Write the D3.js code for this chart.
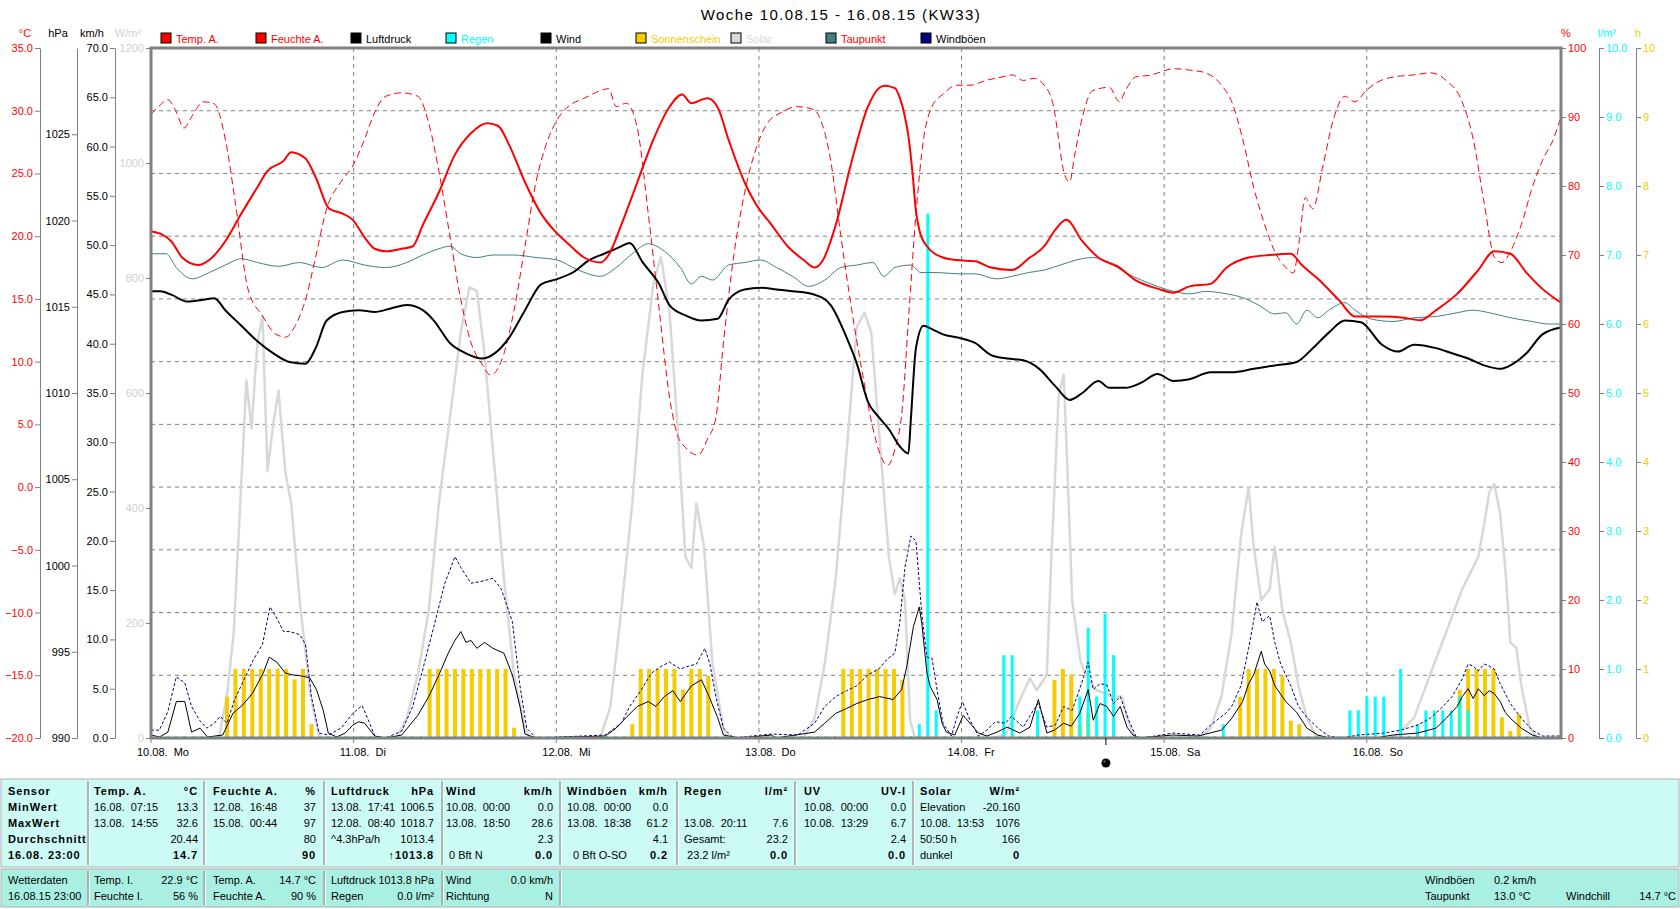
<!DOCTYPE html>
<html>
<head>
<meta charset="utf-8">
<script src="https://cdn.jsdelivr.net/npm/d3@7"></script>
<style>
  body { margin: 0; background: #fff; }
  svg text { font-family: "Liberation Sans", Arial, sans-serif; font-size: 11px; }
  .bold { font-weight: bold; letter-spacing: 0.9px; }
</style>
</head>
<body>
<svg id="chart" width="1680" height="909"></svg>
<script>
// ---- data (hours since 10.08. 00:00, value) ----
const dayLabels = ["10.08.  Mo", "11.08.  Di", "12.08.  Mi", "13.08.  Do", "14.08.  Fr", "15.08.  Sa", "16.08.  So"];

const tempA = [[0,20.4],[1.1,20.2],[2.4,19.6],[3.7,18.3],[5.6,17.7],[6.9,18.1],[8.8,19.6],[10.7,21.8],[12.6,23.9],[13.8,25.2],[15.7,26.0],[16.6,26.7],[18.3,26.2],[19.5,24.7],[21.1,22.2],[22.7,21.8],[23.9,21.3],
  [25.3,19.9],[26.5,19.0],[27.8,18.8],[29.7,19.0],[31.0,19.2],[32.2,20.9],[34.1,23.5],[36.0,26.5],[37.9,28.2],[39.8,29.0],[41.1,28.8],[42.4,27.3],[44.3,24.3],[46.2,21.8],[47.7,20.5],
  [49.4,19.4],[51.3,18.3],[53.2,17.9],[54.2,18.5],[55.7,20.9],[57.6,24.3],[59.5,27.7],[61.4,30.3],[62.9,31.3],[64.0,30.6],[65.9,31.0],[67.1,30.3],[68.4,27.7],[70.3,24.3],[71.6,22.6],
  [73.5,20.9],[75.4,19.2],[77.3,18.1],[78.6,17.5],[79.6,18.1],[81.1,20.9],[83.0,26.0],[84.9,30.3],[86.2,31.8],[86.9,32.0],[88.1,31.8],[88.7,31.0],[89.3,29.5],[89.7,28.0],[90.2,25.0],[90.6,22.0],[91.0,20.5],[91.9,19.2],[93.8,18.3],[95.4,18.1],
  [97.6,18.0],[99.5,17.5],[102.0,17.3],[103.9,18.2],[105.8,19.2],[107.1,20.5],[108.4,21.3],[110.3,19.6],[112.2,18.3],[114.7,17.5],[116.6,16.5],[119.3,15.8],
  [121.1,15.5],[123.0,16.0],[125.5,16.2],[127.4,17.5],[130.0,18.3],[132.5,18.5],[135.0,18.6],[136.3,17.7],[138.2,16.6],[140.7,14.9],[142.6,13.6],
  [145.8,13.6],[148.4,13.5],[150.3,13.3],[152.2,14.1],[154.7,15.4],[157.2,17.3],[159.1,18.8],[161.0,18.6],[162.9,17.1],[164.8,15.8],[167,14.7]];

const humidityA = [[0,90.4],[0.9,91.5],[2.0,92.5],[3.0,90.7],[3.9,88.4],[4.9,90.2],[6.2,92.2],[7.5,91.9],[8.8,86.8],[10.0,77.5],[11.5,65],[13.2,61.2],[14.8,58.5],[16.0,58.1],[17.0,59.6],[18.3,63.5],[19.5,69.7],[20.8,76.7],[22.5,80.6],[23.9,82.9],
  [25.3,86.8],[26.5,90.7],[27.8,93.0],[29.7,93.5],[31.6,93.0],[32.9,89.1],[34.1,82.1],[35.4,72.8],[36.7,63.5],[37.9,57.3],[39.2,54.2],[40.2,52.6],[41.8,55.7],[43.0,62],[44.3,71.3],[45.6,80.6],[46.8,86],[48.1,89.6],
  [49.4,91.5],[51.3,92.7],[53.2,93.8],[54.2,94.1],[55.1,91.5],[56.3,92],[57.6,88.4],[58.9,75.9],[60.2,62],[61.4,49.5],[62.3,44.1],[63.3,42.1],[64.8,41.0],[65.9,43.3],[66.9,46.4],[67.8,57.3],[69.0,69.7],[70.3,79],[71.6,85.2],
  [72.8,88.7],[74.7,90.7],[76.6,91.5],[78.6,91],[79.2,89.9],[80.5,83.7],[81.7,72.8],[83.0,62],[84.3,52.6],[85.5,44.9],[86.4,41],[87.2,39.5],[88.1,41.8],[89.0,48],[89.7,60.4],[90.6,75.9],[91.5,86.8],[92.5,91.5],[93.8,93.3],[95.4,94.6],
  [97.0,94.6],[98.9,95.3],[100.8,95.8],[102.0,96.1],[103.3,95.3],[104.6,95.6],[105.8,94.6],[106.9,91.5],[107.5,86.8],[108.1,82.1],[108.8,80.6],[109.4,84.5],[110.3,89.9],[111.5,93.8],[113.5,94.3],[114.7,92.2],[115.4,93.8],[116.6,95.8],[118.5,96.1],[119.3,96.4],
  [121.1,97],[123.0,96.8],[124.9,96.4],[126.8,94.6],[128.0,92.2],[129.3,86.8],[130.6,79.8],[131.9,74.4],[133.1,70.5],[134.4,68.2],[135.3,67.4],[136.0,72],[136.7,78.3],[137.6,76.7],[138.8,82.9],[140.1,89.9],[141.4,93],[142.6,92.2],[143.9,93.8],
  [145.2,95],[147.1,95.8],[149.6,96.1],[151.5,96.4],[153.4,95.3],[155.3,92.2],[156.6,86.8],[157.9,77.5],[159.1,69.7],[160.0,68.9],[161.0,70.5],[162.3,74.4],[163.6,79.8],[164.8,83.7],[166.1,86.8],[167,90]];

const pressure = [[0,1015.9],[1.1,1015.9],[2.4,1015.7],[4.3,1015.3],[6.2,1015.4],[7.5,1015.5],[8.8,1014.8],[10.7,1013.9],[12.6,1013.0],[14.5,1012.3],[16.4,1011.8],[18.3,1011.7],[19.5,1012.6],[20.8,1014.2],[22.7,1014.7],
  [24.6,1014.8],[26.5,1014.7],[28.4,1014.9],[30.3,1015.1],[32.2,1014.8],[33.5,1014.2],[35.4,1012.9],[37.3,1012.3],[39.2,1012.0],[40.7,1012.3],[42.4,1013.2],[44.3,1014.8],[46.2,1016.3],
  [48.1,1016.6],[50.0,1017.0],[51.9,1017.7],[53.8,1018.1],[55.7,1018.5],[56.7,1018.7],[58.2,1017.6],[60.2,1016.3],[61.4,1015.1],[63.3,1014.5],[65.2,1014.2],[67.1,1014.3],[68.4,1015.4],[70.3,1016.0],
  [72.2,1016.1],[74.1,1016.0],[76.0,1015.9],[78.6,1015.7],[80.5,1015.1],[82.4,1013.2],[83.6,1011.7],[84.9,1009.5],[86.2,1008.6],[87.4,1007.9],[88.7,1006.9],[89.7,1006.5],[90.0,1008.5],[90.6,1012.6],[91.5,1013.9],[92.5,1013.7],[93.8,1013.4],[95.7,1013.2],
  [97.6,1012.9],[99.5,1012.2],[101.4,1012.0],[103.3,1011.9],[105.2,1011.4],[107.1,1010.4],[108.8,1009.6],[110.3,1010.0],[112.2,1010.7],[113.5,1010.3],[115.4,1010.3],[117.3,1010.6],[119.2,1011.1],
  [121.1,1010.7],[123.0,1010.8],[125.5,1011.2],[128.0,1011.2],[130.6,1011.4],[133.1,1011.6],[135.7,1011.8],[137.6,1012.6],[139.5,1013.5],[141.4,1014.2],[143.3,1014.1],
  [145.8,1012.8],[147.7,1012.4],[149.6,1012.8],[152.2,1012.6],[154.1,1012.3],[156.0,1012.0],[157.9,1011.6],[159.8,1011.4],[161.0,1011.6],[162.9,1012.3],[164.8,1013.4],[167,1013.8]];

const dewPoint = [[0,18.6],[1.8,18.6],[3.0,17.5],[4.9,16.6],[6.9,17.1],[8.8,17.7],[10.7,18.2],[12.6,17.9],[15.1,17.6],[17.6,17.9],[20.2,17.5],[22.7,18.1],[25.3,17.7],[27.8,17.5],[30.3,17.9],[32.2,18.5],[34.1,19.0],[35.4,19.2],[36.7,18.6],[38.6,18.3],[40.5,18.5],[43.0,18.5],[45.6,18.3],
  [48.1,18.1],[50.6,17.3],[53.2,16.8],[55.1,17.5],[57.0,18.6],[58.9,19.4],[60.8,18.8],[62.7,17.5],[64.0,16.2],[65.2,16.8],[66.5,16.5],[68.4,17.7],[70.3,17.9],[72.2,18.1],[74.1,17.5],[76.0,16.8],[77.9,16.0],[79.8,16.5],[81.7,17.5],[83.6,17.7],[85.5,17.9],[86.8,16.8],[88.1,17.5],[90.0,17.7],[91.2,17.1],[93.1,17.1],[95.7,17.0],
  [97.6,17.0],[100.1,16.6],[102.0,16.8],[103.9,17.1],[105.8,17.3],[107.7,17.7],[109.6,18.1],[111.5,18.3],[113.5,17.9],[115.4,17.1],[117.3,16.5],[119.2,16.0],[121.1,15.6],[123.0,15.4],[124.9,15.6],[127.4,15.4],[129.3,15.1],[131.2,14.5],[133.1,13.8],[134.4,13.9],[135.7,13.0],[136.9,14.1],[138.2,13.5],[139.5,14.1],[141.4,14.7],[142.6,14.1],
  [144.5,13.4],[147.1,13.2],[149.6,13.5],[152.2,13.6],[154.7,13.9],[156.6,14.1],[158.5,13.9],[161.0,13.5],[163.6,13.2],[165.5,13.0],[167,13.0]];

const solar = [[0,0],[7.5,0],[8.1,5],[9.0,73],[9.8,184],[10.7,445],[11.3,622],[11.9,538],[12.6,687],[13.2,734],[13.8,464],[14.5,548],[15.1,604],[15.9,464],[16.6,408],[17.6,240],[18.9,73],[19.9,5],[20.2,0],
  [29.1,0],[30.3,35],[31.6,110],[32.9,222],[34.1,408],[35.4,557],[36.7,706],[37.7,784],[38.6,777],[39.5,669],[40.5,501],[41.8,278],[43.0,110],[44.3,17],[44.9,0],
  [53.2,0],[54.4,54],[55.7,222],[57.0,408],[58.2,632],[59.5,790],[60.4,837],[61.4,743],[62.3,557],[63.3,315],[64.0,296],[64.6,408],[65.5,333],[66.5,129],[67.8,17],[68.4,0],
  [77.3,0],[78.6,35],[79.8,129],[81.1,278],[82.4,501],[83.6,715],[84.5,740],[85.3,706],[86.2,538],[87.4,315],[88.1,250],[88.7,278],[89.3,240],[89.9,31],[90.5,0],
  [100,0],[101.3,8],[102.9,66],[104.1,104],[104.9,83],[106.1,110],[106.6,300],[107.5,594],[108.1,632],[108.6,445],[109.1,240],[110.1,133],[110.7,110],[112.0,83],[114.0,72],[115.0,72],[115.7,31],[116.5,0],
  [124.2,0],[125.5,17],[126.8,73],[128.0,184],[129.1,352],[130.0,436],[130.6,333],[131.5,240],[132.5,259],[133.1,333],[134.0,222],[135.0,166],[135.9,91],[136.9,35],[137.9,5],[138.5,0],
  [147.1,0],[149.6,35],[151.5,110],[153.4,184],[155.3,259],[157.2,315],[157.9,371],[158.5,427],[159.1,442],[159.8,389],[160.4,296],[161.0,166],[161.7,157],[162.3,91],[163.3,17],[164.2,0],[167,0]];

const wind = [[0,0.3],[1,0.1],[2,0.6],[3,3.7],[4,3.7],[4.8,0.6],[5.8,1.0],[6.7,0.1],[8.5,0.3],[9.7,2.5],[10.8,3.3],[12,4.5],[13.3,6.6],[14,8.2],[14.9,7.7],[15.9,6.6],[16.8,6.4],[17.8,6.3],[18.8,6.1],[19.6,4.9],[20.4,2.8],[21,0.5],[22,0.1],[23,0.5],[23.9,1.3],[24.6,1.65],
  [25.3,1.5],[26.5,0.2],[27.8,0],[29.7,0.3],[31.6,2.3],[32.9,4.2],[34.1,6.4],[35.2,8.6],[36.0,9.9],[36.7,10.8],[37.3,9.7],[37.9,9.9],[38.6,9.1],[39.5,9.7],[40.5,9.1],[41.8,8.6],[42.8,6.4],[43.7,3.2],[44.3,0.4],[45.6,0],
  [53.8,0.2],[55.1,1.0],[56.3,2.1],[57.6,3.2],[58.9,3.7],[59.8,3.2],[60.8,4.2],[61.8,4.8],[62.7,3.7],[64.0,5.3],[65.2,5.9],[66.1,4.2],[67.1,2.1],[67.8,0.3],[69.7,0],
  [73.5,0.3],[74,0],[78.6,0.6],[79.8,1.5],[81.1,2.5],[82.4,3.0],[83.6,3.5],[84.9,3.9],[86.3,4.2],[87.9,3.9],[88.9,4.9],[89.5,7.2],[90.3,11.3],[91.0,13.3],[91.3,11.6],[91.9,6.6],[92.3,5.2],[93.1,3.9],[93.7,1.5],[94.2,0.6],[95.2,0.3],[96.2,2.3],[97.2,1.3],[98,0.5],[99,0.2],
  [100.2,0.6],[101.4,1.1],[102.9,0.5],[104.1,1.1],[105.1,3.9],[106.1,0.5],[107,0.8],[108.1,1.5],[109,1.2],[110.0,2.5],[111.0,4.9],[111.6,1.8],[112.4,3.5],[113.2,3.2],[114.0,2.2],[114.8,3.2],[115.6,1.1],[116.3,0.3],
  [117,0],[121,0.3],[124,0.2],[126.8,0.8],[128.0,2.0],[129.3,3.7],[130.0,5.5],[130.6,6.4],[131.5,8.8],[131.9,7.5],[132.5,6.8],[133.1,5.3],[134.4,3.7],[135.7,2.6],[136.9,1.0],[138.2,0.3],[139.5,0],
  [145,0],[147.1,0.3],[150,0.5],[152.2,1.0],[153.4,2.0],[154.7,3.2],[155.3,4.2],[156.0,5.0],[156.6,4.0],[157.2,5.0],[157.9,4.3],[158.5,4.8],[159.1,4.5],[159.8,3.7],[160.4,2.6],[161.0,2.0],[162.3,1.0],[163.6,0.3],[164.8,0],[167,0]];

const gusts = [[0,0.8],[1,0.8],[2,2.7],[3,6.2],[4,5.6],[4.8,3.2],[5.8,1.75],[6.6,1.0],[7.5,1.5],[8.2,2.2],[9,1.5],[9.9,3.9],[10.9,5.7],[12.1,7.9],[13.2,9.5],[14.1,13.3],[14.8,12.3],[15.7,10.8],[16.4,10.8],[17.6,10.5],[18.3,9.5],[19.0,4.2],[19.9,0.5],[21,0.3],[22.5,1.0],[23.9,2.5],[25.0,3.3],[25.9,1.5],[26.5,0.2],
  [27.8,0],[29.7,0.7],[31.0,3.2],[32.2,7.0],[33.5,11.3],[34.8,15.7],[36.0,18.4],[36.7,17.3],[37.9,15.7],[39.2,15.9],[40.5,16.2],[41.5,15.1],[42.8,11.8],[43.7,5.3],[44.5,1.0],[45.6,0],
  [53.8,0.3],[55.7,1.5],[56.7,3.2],[58.0,4.8],[59.3,6.6],[60.5,7.3],[61.4,7.7],[62.7,7.0],[63.7,7.3],[64.6,7.5],[65.6,9.1],[66.2,7.5],[66.9,4.2],[67.8,1.0],[69.0,0],
  [73.5,0.4],[76.6,0.3],[78.6,1.5],[79.8,3.2],[81.1,4.2],[82.4,4.8],[83.6,5.3],[84.9,6.4],[86.2,7.0],[87.2,8.0],[88.1,8.6],[88.7,11.8],[89.3,17.3],[90.0,20.5],[90.6,20.0],[91.3,12.5],[91.9,8.2],[92.5,8.1],[93.1,4.9],[93.8,1.5],[94.8,0.2],[95.6,2.5],[96.1,3.7],[97.0,1.8],[98,0.2],[99,0.8],
  [100,1.65],[101.2,1.5],[101.9,2.2],[103.3,1.1],[104.5,2.8],[105.1,3.5],[106.1,1.1],[107.1,1.3],[108.1,3.2],[109.1,2.8],[110.2,5.5],[111.0,7.7],[111.6,4.9],[112.4,5.5],[113.2,5.4],[114.0,3.5],[114.8,4.2],[115.8,1.8],[116.7,0.1],
  [117.5,0],[121,0.5],[124.2,0.3],[125.5,1.3],[127.4,2.6],[128.0,3.2],[129.1,5.3],[130.0,9.1],[131.0,13.8],[131.6,11.8],[132.5,12.4],[133.1,9.7],[133.8,7.5],[135.0,5.3],[135.9,3.2],[136.9,2.1],[138.2,1.0],[139.5,0.2],
  [141,0],[143,0.3],[146,0.5],[148,0.8],[150,1.3],[151.5,2.0],[152.8,3.0],[154.1,4.2],[155.3,6.0],[156.0,7.5],[156.6,7.3],[157.2,6.8],[157.9,7.5],[158.5,7.3],[159.1,7.0],[159.8,5.5],[160.4,4.5],[161.0,3.5],[162.3,2.0],[163.6,0.8],[164.8,0.2],[167,0.2]];

// sunshine hours per hour, rain l/m² per hour
const sunshine = [[9,0.6],[10,1],[11,1],[12,1],[13,1],[14,1],[15,1],[16,1],[17,0.85],[18,1],[19,0.2],
  [33,1],[34,1],[35,1],[36,1],[37,1],[38,1],[39,1],[40,1],[41,1],[42,1],[43,0.15],
  [57,0.2],[58,1],[59,1],[60,1],[61,1],[62,1],[63,0.7],[64,1],[65,1],[66,0.9],
  [82,1],[83,1],[84,1],[85,1],[86,1],[87,1],[88,1],[89,0.84],
  [107,0.84],[108,1],[109,0.92],[110,0.2],[111,0.37],
  [129,0.6],[130,1],[131,1],[132,1],[133,1],[134,0.9],[135,0.25],[136,0.2],
  [155,0.7],[156,1],[157,1],[158,1],[159,1],[160,0.3],[161,0.1],[162,0.35]];

const rain = [[91,0.2],[92,7.6],[93,0.4],[101,1.2],[102,1.2],[105,0.4],[110,0.6],[111,1.6],[112,0.6],[113,1.8],[114,1.2],
  [127,0.2],[142,0.4],[143,0.4],[144,0.6],[145,0.6],[146,0.6],[148,1.0],[150,0.2],[151,0.4],[152,0.4],[153,0.4],[154,0.4],[155,0.6],[156,0.4]];

const moonHour = 113.1;

const legendItems = [
  ["Temp. A.", "#ff0000", "#ff0000"], ["Feuchte A.", "#ff0000", "#ff0000"], ["Luftdruck", "#000000", "#000000"],
  ["Regen", "#00ffff", "#00ffff"], ["Wind", "#000000", "#000000"], ["Sonnenschein", "#f5cc00", "#f5cc00"],
  ["Solar", "#d8d8d8", "#d8d8d8"], ["Taupunkt", "#408080", "#ff0000"], ["Windböen", "#000080", "#000000"]];

// table texts
const sensorRows = ["Sensor", "MinWert", "MaxWert", "Durchschnitt", "16.08. 23:00"];
const statHeads = [["Temp. A.", "°C"], ["Feuchte A.", "%"], ["Luftdruck", "hPa"], ["Wind", "km/h"], ["Windböen", "km/h"], ["Regen", "l/m²"], ["UV", "UV-I"], ["Solar", "W/m²"]];
const statLeft = [
  ["16.08.  07:15", "13.08.  14:55", "", ""],
  ["12.08.  16:48", "15.08.  00:44", "", ""],
  ["13.08.  17:41", "12.08.  08:40", "^4.3hPa/h", ""],
  ["10.08.  00:00", "13.08.  18:50", "", " 0 Bft N"],
  ["10.08.  00:00", "13.08.  18:38", "", "  0 Bft O-SO"],
  ["", "13.08.  20:11", "Gesamt:", " 23.2 l/m²"],
  ["10.08.  00:00", "10.08.  13:29", "", ""],
  ["Elevation", "10.08.  13:53", "50:50 h", "dunkel"]];
const statRight = [
  ["13.3", "32.6", "20.44", "14.7"],
  ["37", "97", "80", "90"],
  ["1006.5", "1018.7", "1013.4", "↑1013.8"],
  ["0.0", "28.6", "2.3", "0.0"],
  ["0.0", "61.2", "4.1", "0.2"],
  ["", "7.6", "23.2", "0.0"],
  ["0.0", "6.7", "2.4", "0.0"],
  ["-20.160", "1076", "166", "0"]];
const currentLeft = [["Temp. I.", "Feuchte I."], ["Temp. A.", "Feuchte A."], ["Luftdruck", "Regen"], ["Wind", "Richtung"]];
const currentRight = [["22.9 °C", "56 %"], ["14.7 °C", "90 %"], ["1013.8 hPa", "0.0 l/m²"], ["0.0 km/h", "N"]];

// ---- layout ----
const svg = d3.select("#chart");
const plot = { left: 151, right: 1561, top: 48, bottom: 738 };
const colX0 = [94, 213, 331, 446, 567, 684, 804, 920];
const colX1 = [198, 316, 434, 553, 668, 788, 906, 1020];
const colSep = [88, 204, 324, 442, 560, 677, 795, 913];

const x = d3.scaleLinear().domain([0, 167]).range([plot.left, plot.right]);
const yT = d3.scaleLinear().domain([-20, 35]).range([plot.bottom, plot.top]);
const yP = d3.scaleLinear().domain([990, 1030]).range([plot.bottom, plot.top]);
const yW = d3.scaleLinear().domain([0, 70]).range([plot.bottom, plot.top]);
const yS = d3.scaleLinear().domain([0, 1200]).range([plot.bottom, plot.top]);
const yH = d3.scaleLinear().domain([0, 100]).range([plot.bottom, plot.top]);
const yR = d3.scaleLinear().domain([0, 10]).range([plot.bottom, plot.top]);

svg.append("text").attr("x", 841).attr("y", 20).attr("text-anchor", "middle")
  .style("font-size", "15px").style("letter-spacing", "1.4px").text("Woche 10.08.15 - 16.08.15 (KW33)");

// grid
const grid = svg.append("g").attr("stroke", "#808080").attr("stroke-dasharray", "4,4");
d3.range(-15, 35, 5).forEach(t => {
  grid.append("line").attr("x1", plot.left).attr("x2", plot.right).attr("y1", yT(t)).attr("y2", yT(t));
});
d3.range(24, 167, 24).forEach(h => {
  grid.append("line").attr("x1", x(h)).attr("x2", x(h)).attr("y1", plot.top).attr("y2", plot.bottom);
});

// axes
function styleAxis(g, color) {
  g.attr("font-size", null).attr("font-family", null);
  g.select(".domain").attr("stroke", "#808080");
  g.selectAll(".tick line").attr("stroke", "#808080");
  g.selectAll(".tick text").attr("fill", color);
}
function leftAxis(scale, xPos, values, fmt, color) {
  const g = svg.append("g").attr("transform", `translate(${xPos},0)`)
    .call(d3.axisLeft(scale).tickValues(values).tickFormat(fmt).tickSize(5).tickSizeOuter(0).tickPadding(2));
  styleAxis(g, color);
}
function rightAxis(scale, xPos, values, fmt, color) {
  const g = svg.append("g").attr("transform", `translate(${xPos},0)`)
    .call(d3.axisRight(scale).tickValues(values).tickFormat(fmt).tickSize(5).tickSizeOuter(0).tickPadding(2));
  styleAxis(g, color);
}
leftAxis(yT, 40, d3.range(-20, 36, 5), d3.format(".1f"), "#ff0000");
leftAxis(yP, 77, d3.range(990, 1026, 5), d3.format("d"), "#000");
leftAxis(yW, 115, d3.range(0, 71, 5), d3.format(".1f"), "#000");
leftAxis(yS, plot.left, d3.range(0, 1201, 200), d3.format("d"), "#d0d0d0");
rightAxis(yH, plot.right, d3.range(0, 101, 10), d3.format("d"), "#ff0000");
rightAxis(yR, 1599, d3.range(0, 11, 1), d3.format(".1f"), "#00ffff");
rightAxis(yR, 1636, d3.range(0, 11, 1), d3.format("d"), "#f5cc00");

const units = [["°C", 25, "#ff0000"], ["hPa", 58, "#000"], ["km/h", 92, "#000"], ["W/m²", 128, "#d0d0d0"],
  ["%", 1566, "#ff0000"], ["l/m²", 1607, "#00ffff"], ["h", 1638, "#f5cc00"]];
svg.selectAll(".unit").data(units).join("text").attr("class", "unit")
  .attr("x", d => d[1]).attr("y", 37).attr("text-anchor", "middle").attr("fill", d => d[2]).text(d => d[0]);

// legend
const lg = svg.selectAll(".legend").data(legendItems).join("g").attr("class", "legend")
  .attr("transform", (d, i) => `translate(${161 + i * 95},33)`);
lg.append("rect").attr("width", 10).attr("height", 10).attr("fill", d => d[1]).attr("stroke", "#000");
lg.append("text").attr("x", 15).attr("y", 9.5).attr("fill", d => d[2]).text(d => d[0]);

// series
const lineOf = (ys, curve) => d3.line().x(d => x(d[0])).y(d => ys(d[1])).curve(curve || d3.curveLinear);
function drawLine(data, ys, color, width, dash, curve) {
  svg.append("path").datum(data).attr("fill", "none").attr("stroke", color)
    .attr("stroke-width", width).attr("stroke-dasharray", dash || null)
    .attr("stroke-linejoin", "round").attr("d", lineOf(ys, curve)(data));
}

drawLine(solar, yS, "#d8d8d8", 2.5);

svg.append("g").selectAll("rect").data(sunshine).join("rect")
  .attr("x", d => x(d[0]) - 2).attr("width", 4)
  .attr("y", d => yR(d[1])).attr("height", d => yR(0) - yR(d[1])).attr("fill", "#f5cc00");

// zero markers on the baseline
const hours = d3.range(0, 168);
const rainHours = new Set(rain.map(d => d[0]));
svg.append("g").selectAll("rect").data(hours.filter(h => !rainHours.has(h))).join("rect")
  .attr("x", d => x(d) - 1).attr("y", plot.bottom - 2).attr("width", 2).attr("height", 2).attr("fill", "#00ffff");

svg.append("g").selectAll("rect").data(rain).join("rect")
  .attr("x", d => x(d[0]) - 1.5).attr("width", 3)
  .attr("y", d => yR(d[1])).attr("height", d => yR(0) - yR(d[1])).attr("fill", "#00ffff");

drawLine(wind, yW, "#000", 1);
drawLine(gusts, yW, "#000080", 1, "3,2");
drawLine(dewPoint, yT, "#408080", 1, null, d3.curveMonotoneX);
drawLine(humidityA, yH, "#ff0000", 1, "7,4", d3.curveMonotoneX);
drawLine(pressure, yP, "#000", 2, null, d3.curveMonotoneX);
drawLine(tempA, yT, "#ff0000", 2, null, d3.curveMonotoneX);

// frame
svg.append("rect").attr("x", plot.left).attr("y", plot.top)
  .attr("width", plot.right - plot.left).attr("height", plot.bottom - plot.top)
  .attr("fill", "none").attr("stroke", "#808080").attr("stroke-width", 3);

// day labels and ticks
d3.range(0, 7).forEach(i => {
  svg.append("line").attr("x1", x(i * 24)).attr("x2", x(i * 24)).attr("y1", plot.bottom).attr("y2", plot.bottom + 5).attr("stroke", "#808080");
});
svg.selectAll(".day").data(dayLabels).join("text").attr("class", "day")
  .attr("x", (d, i) => x(i * 24) - 14).attr("y", 756).style("white-space", "pre").text(d => d);

// moon
svg.append("line").attr("x1", x(moonHour)).attr("x2", x(moonHour)).attr("y1", plot.bottom).attr("y2", plot.bottom + 7).attr("stroke", "#000");
svg.append("circle").attr("cx", x(moonHour)).attr("cy", 763).attr("r", 4.5).attr("fill", "#000");
svg.append("circle").attr("cx", x(moonHour) - 1.5).attr("cy", 761.5).attr("r", 1).attr("fill", "#777");

// ---- table ----
const tb = svg.append("g");
tb.append("rect").attr("x", 1).attr("y", 779).attr("width", 1678).attr("height", 88).attr("fill", "#ccfbf6").attr("stroke", "#b0b0b0");
tb.append("rect").attr("x", 1).attr("y", 869).attr("width", 1678).attr("height", 38).attr("fill", "#aaf0e2").attr("stroke", "#b0b0b0");
colSep.forEach(cx => {
  tb.append("line").attr("x1", cx).attr("x2", cx).attr("y1", 781).attr("y2", 865).attr("stroke", "#a0a0a0").attr("stroke-width", 1.5);
  tb.append("line").attr("x1", cx + 1.5).attr("x2", cx + 1.5).attr("y1", 781).attr("y2", 865).attr("stroke", "#fff");
});
colSep.slice(0, 5).forEach(cx => {
  tb.append("line").attr("x1", cx).attr("x2", cx).attr("y1", 871).attr("y2", 905).attr("stroke", "#a0a0a0").attr("stroke-width", 1.5);
  tb.append("line").attr("x1", cx + 1.5).attr("x2", cx + 1.5).attr("y1", 871).attr("y2", 905).attr("stroke", "#fff");
});

const rowY = [795, 811, 827, 843, 859];
sensorRows.forEach((t, i) => {
  tb.append("text").attr("class", "bold").attr("x", 8).attr("y", rowY[i]).text(t);
});
statHeads.forEach((hd, c) => {
  tb.append("text").attr("class", "bold").attr("x", colX0[c]).attr("y", rowY[0]).text(hd[0]);
  tb.append("text").attr("class", "bold").attr("x", colX1[c]).attr("y", rowY[0]).attr("text-anchor", "end").text(hd[1]);
  statLeft[c].forEach((t, r) => {
    tb.append("text").attr("x", colX0[c]).attr("y", rowY[r + 1]).style("white-space", "pre").text(t);
  });
  statRight[c].forEach((t, r) => {
    tb.append("text").attr("x", colX1[c]).attr("y", rowY[r + 1]).attr("text-anchor", "end")
      .attr("class", r === 3 ? "bold" : null).text(t);
  });
});

const lowY = [884, 900];
tb.append("text").attr("x", 8).attr("y", lowY[0]).text("Wetterdaten");
tb.append("text").attr("x", 8).attr("y", lowY[1]).text("16.08.15 23:00");
currentLeft.forEach((col, c) => {
  col.forEach((t, r) => {
    if (c === 2 && r === 0) {
      // label and value share one line here, squeezed into the column
      tb.append("text").attr("x", colX0[c]).attr("y", lowY[r]).attr("textLength", colX1[c] - colX0[c])
        .attr("lengthAdjust", "spacingAndGlyphs").text(t + " " + currentRight[c][r]);
    } else {
      tb.append("text").attr("x", colX0[c]).attr("y", lowY[r]).text(t);
      tb.append("text").attr("x", colX1[c]).attr("y", lowY[r]).attr("text-anchor", "end").text(currentRight[c][r]);
    }
  });
});
tb.append("text").attr("x", 1425).attr("y", lowY[0]).text("Windböen");
tb.append("text").attr("x", 1494).attr("y", lowY[0]).text("0.2 km/h");
tb.append("text").attr("x", 1425).attr("y", lowY[1]).text("Taupunkt");
tb.append("text").attr("x", 1494).attr("y", lowY[1]).text("13.0 °C");
tb.append("text").attr("x", 1566).attr("y", lowY[1]).text("Windchill");
tb.append("text").attr("x", 1676).attr("y", lowY[1]).attr("text-anchor", "end").text("14.7 °C");
</script>
</body>
</html>
